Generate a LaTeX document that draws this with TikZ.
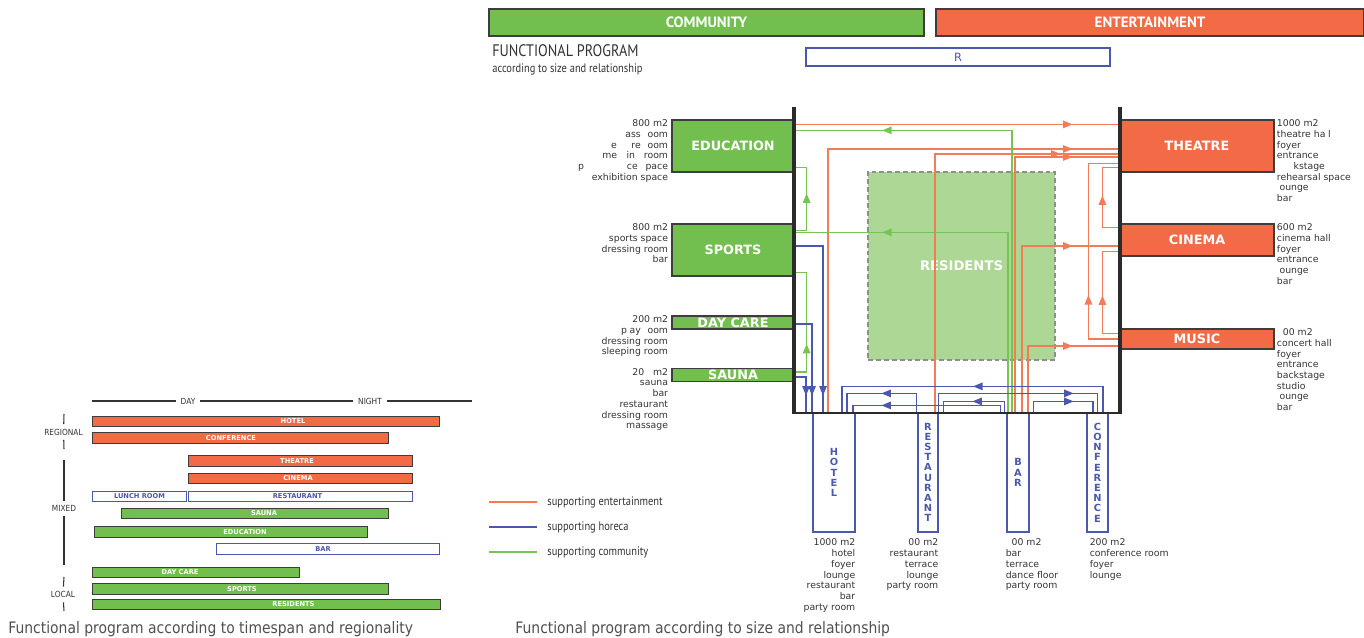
\documentclass[tikz,border=0pt]{standalone}
\usepackage{fontspec}
\setmainfont{DejaVu Sans}
\newfontfamily\ptsans{PT Sans}
\newfontfamily\condsans[FakeStretch=0.85]{PT Sans}
\newfontfamily\capsans[FakeStretch=0.88]{DejaVu Sans}
\usetikzlibrary{arrows.meta,calc,positioning,decorations.markings}
\definecolor{Leaf}{HTML}{72BF4F}
\definecolor{Flame}{HTML}{F26B46}
\definecolor{EntLine}{HTML}{F47B58}
\definecolor{ComLine}{HTML}{76C453}
\definecolor{Horeca}{HTML}{4A58AE}
\definecolor{Pale}{HTML}{ADD795}
\definecolor{Dash}{HTML}{8E8E8E}
\definecolor{Charcoal}{HTML}{2B2B2B}
\definecolor{Edge}{HTML}{3D3D3D}
\definecolor{Ink}{HTML}{333333}
\definecolor{Caption}{HTML}{505050}
\tikzset{
  hdrbox/.style={
    draw=Edge, line width=0.7pt, text=white, inner sep=0pt,
    font=\ptsans\bfseries\fontsize{8.5}{9}\selectfont, minimum height=0.54cm
  },
  combox/.style={
    draw=Edge, line width=0.7pt, fill=Leaf, text=white, inner sep=0pt,
    font=\bfseries\fontsize{7.3}{8}\selectfont, minimum width=2.44cm
  },
  entbox/.style={
    draw=Edge, line width=0.7pt, fill=Flame, text=white, inner sep=0pt,
    font=\bfseries\fontsize{7.3}{8}\selectfont, minimum width=3.08cm
  },
  horbox/.style={
    draw=Horeca, line width=0.7pt, fill=white, text=Horeca, inner sep=0pt,
    font=\bfseries\fontsize{5.6}{5.8}\selectfont, align=center, minimum height=2.38cm
  },
  resbox/.style={
    draw=Dash, dash pattern=on 2.8pt off 1.7pt, line width=0.7pt, fill=Pale,
    text=white, font=\bfseries\fontsize{7.5}{8}\selectfont,
    minimum width=3.74cm, minimum height=3.76cm
  },
  desc/.style={font=\fontsize{5.3}{6.1}\selectfont, text=Ink, inner sep=0pt},
  ent/.style={color=EntLine, line width=0.7pt},
  com/.style={color=ComLine, line width=0.7pt},
  hor/.style={color=Horeca, line width=0.7pt},
  mid/.style={postaction={decorate}, decoration={markings,
    mark=at position #1 with {\arrow{Triangle[length=1.9mm,width=1.5mm]}}}},
  wall/.style={draw=Charcoal, line width=2.3pt},
  tbar/.style={draw=Edge, line width=0.5pt, minimum height=0.21cm, inner sep=0pt},
  tlab/.style={font=\bfseries\fontsize{3.8}{4}\selectfont, text=white, inner sep=0pt},
  axislab/.style={font=\capsans\fontsize{4.8}{5}\selectfont, text=Ink, inner sep=2.5pt},
  axis/.style={draw=Ink, line width=0.6pt},
  legtxt/.style={anchor=west, inner sep=0pt, font=\condsans\fontsize{7}{7}\selectfont, text=Ink},
  caption/.style={anchor=west, inner sep=0pt, font=\capsans\fontsize{9}{9}\selectfont, text=Caption}
}

\begin{document}
\begin{tikzpicture}[x=0.02cm,y=-0.02cm]
  \useasboundingbox (0,0) rectangle (1364,638);

  % headers
  \node[hdrbox, fill=Leaf, minimum width=8.70cm] (community) at (706.5,22.5) {COMMUNITY};
  \node[hdrbox, fill=Flame, minimum width=8.56cm] (entertainment) at (1150,22.5) {ENTERTAINMENT};
  \node[anchor=west, inner sep=0pt, font=\condsans\fontsize{9.5}{10}\selectfont, text=Ink] (title) at (492,51) {FUNCTIONAL PROGRAM};
  \node[anchor=north west, inner sep=0pt, font=\condsans\fontsize{7}{8}\selectfont, text=Ink] (subtitle) at ([yshift=-0.12cm]title.south west) {according to size and relationship};
  \node[draw=Horeca, line width=0.7pt, text=Horeca, font=\fontsize{6.5}{7}\selectfont, minimum width=6.08cm, minimum height=0.36cm, inner sep=0pt] (rbox) at (958,57) {R};

  % program blocks
  \node[resbox] (residents) at (961.5,266) {RESIDENTS};
  \node[combox, minimum height=1.04cm] (edu) at (733,146) {EDUCATION};
  \node[combox, minimum height=1.04cm] (sports) at (733,250) {SPORTS};
  \node[combox, minimum height=0.26cm] (daycare) at (733,322.5) {DAY CARE};
  \node[combox, minimum height=0.26cm] (sauna) at (733,375) {SAUNA};
  \node[entbox, minimum height=1.04cm] (theatre) at (1197,146) {THEATRE};
  \node[entbox, minimum height=0.64cm] (cinema) at (1197,240) {CINEMA};
  \node[entbox, minimum height=0.40cm] (music) at (1197,339) {MUSIC};
  \node[horbox, minimum width=0.84cm] (hotelbox) at (834,472.5) {H\\O\\T\\E\\L};
  \node[horbox, minimum width=0.40cm] (restbox) at (928,472.5) {R\\E\\S\\T\\A\\U\\R\\A\\N\\T};
  \node[horbox, minimum width=0.44cm] (barbox) at (1018,472.5) {B\\A\\R};
  \node[horbox, minimum width=0.42cm] (confbox) at (1097.5,472.5) {C\\O\\N\\F\\E\\R\\E\\N\\C\\E};

  % room lists
  \node[desc, anchor=north east, align=right] (edutxt) at ([xshift=-0.06cm]edu.north west)
    {800 m2\\\phantom{cl}ass \phantom{r}oom\\\phantom{l}e\phantom{ctu}re \phantom{r}oom\\me\phantom{et}in\phantom{g} room\\p\phantom{erforman}ce \phantom{s}pace\\exhibition space};
  \node[desc, anchor=north east, align=right] (sportstxt) at ([xshift=-0.06cm]sports.north west)
    {800 m2\\sports space\\dressing room\\bar};
  \node[desc, anchor=north east, align=right] (daycaretxt) at ([xshift=-0.06cm]daycare.north west)
    {200 m2\\p\phantom{l}ay \phantom{r}oom\\dressing room\\sleeping room};
  \node[desc, anchor=north east, align=right] (saunatxt) at ([xshift=-0.06cm]sauna.north west)
    {20\phantom{0} m2\\sauna\\bar\\restaurant\\dressing room\\massage};
  \node[desc, anchor=north west, align=left] (theatretxt) at ([xshift=0.04cm]theatre.north east)
    {1000 m2\\theatre ha\phantom{l}l\\foyer\\entrance\\\phantom{bac}kstage\\rehearsal space\\\phantom{l}ounge\\bar};
  \node[desc, anchor=north west, align=left] (cinematxt) at ([xshift=0.04cm]cinema.north east)
    {600 m2\\cinema hall\\foyer\\entrance\\\phantom{l}ounge\\bar};
  \node[desc, anchor=north west, align=left] (musictxt) at ([xshift=0.04cm]music.north east)
    {\phantom{0}00 m2\\concert hall\\foyer\\entrance\\backstage\\studio\\\phantom{l}ounge\\bar};
  \node[desc, anchor=north east, align=right] (hoteltxt) at ([yshift=-0.12cm]hotelbox.south east)
    {1000 m2\\hotel\\foyer\\lounge\\restaurant\\bar\\party room};
  \node[desc, anchor=north east, align=right] (resttxt) at ([yshift=-0.12cm]restbox.south east)
    {\phantom{0}00 m2\\restaurant\\terrace\\lounge\\party room};
  \node[desc, anchor=north west, align=left] (bartxt) at ([xshift=-0.02cm,yshift=-0.12cm]barbox.south west)
    {\phantom{0}00 m2\\bar\\terrace\\dance floor\\party room};
  \node[desc, anchor=north west, align=left] (conftxt) at ([xshift=0.06cm,yshift=-0.12cm]confbox.south west)
    {200 m2\\conference room\\foyer\\lounge};

  % supporting entertainment
  \draw[ent, mid=5.56cm] ($(edu.north east)+(0,5)$) -- ($(theatre.north west)+(0,5)$);
  \draw[ent, mid=10.16cm] ($(hotelbox.north)+(-6,0)$) |- ($(theatre.west)+(0,3)$);
  \draw[ent, mid=7.68cm] ($(restbox.north)+(7,0)$) |- ($(theatre.west)+(0,8)$);
  \draw[ent, mid=6.26cm] ($(barbox.north)+(-3,0)$) |- ($(theatre.west)+(0,11)$);
  \draw[ent, mid=4.34cm] ($(barbox.north)+(4,0)$) |- ($(cinema.west)+(0,6)$);
  \draw[ent, mid=2.22cm] ($(barbox.north)+(10,0)$) |- ($(music.west)+(0,7)$);
  \draw[ent, mid=1.5cm] (music.west) -- ++(-31,0) |- ($(theatre.south west)+(0,-9)$);
  \draw[ent, mid=0.98cm] ($(cinema.north west)+(0,4)$) -- ++(-17,0) |- ($(theatre.south west)+(0,-5)$);
  \draw[ent, mid=1.1cm] ($(music.north west)+(0,5)$) -- ++(-17,0) |- ($(cinema.south west)+(0,-5)$);

  % supporting community
  \draw[com, mid=8.24cm] ($(barbox.north)+(-6,0)$) |- ($(edu.north east)+(0,11)$);
  \draw[com, mid=6.12cm] ($(barbox.north)+(-10,0)$) |- ($(sports.north east)+(0,9)$);
  \draw[com, mid=0.98cm] ($(sports.north east)+(0,7)$) -- ++(12,0) |- ($(edu.south east)+(0,-5)$);
  \draw[com, mid=0.8cm] ($(sauna.north east)+(0,4)$) -- ++(12,0) |- ($(sports.south east)+(0,-4)$);

  % supporting horeca
  \draw[hor, mid=3.56cm] ($(sports.east)+(0,-4)$) -| ($(hotelbox.north)+(-11,0)$);
  \draw[hor, mid=1.78cm] ($(daycare.east)+(0,1.5)$) -| ($(hotelbox.north)+(-22,0)$);
  \draw[hor, mid=0.6cm] ($(sauna.east)+(0,2)$) -| ($(hotelbox.north)+(-28,0)$);
  \draw[hor, mid=3.12cm] ($(confbox.north)+(5.5,0)$) -- ++(0,-26) -| ($(hotelbox.north)+(8,0)$);
  \draw[hor, mid=1.08cm] ($(restbox.north west)+(-1,0)$) -- ++(0,-19) -| ($(hotelbox.north)+(13,0)$);
  \draw[hor, mid=3.08cm] (restbox.north east) -- ++(0,-19) -| (confbox.north);
  \draw[hor, mid=0.86cm] ($(barbox.north west)+(-2,0)$) -- ++(0,-11) -| ($(restbox.north east)+(5,0)$);
  \draw[hor, mid=2.52cm] ($(barbox.north west)+(-6,0)$) -- ++(0,-7) -| ($(hotelbox.north)+(19,0)$);
  \draw[hor, mid=1.02cm] ($(barbox.north east)+(4,0)$) -- ++(0,-11) -| ($(confbox.north)+(-4.5,0)$);

  % frame
  \draw[wall] (794,107) -- (794,414);
  \draw[wall] (1120,107) -- (1120,414);
  \draw[draw=Charcoal, line width=1.2pt] (794,413) -- (1120,413);

  % legend
  \node[legtxt] (legent) at (547,502) {supporting entertainment};
  \node[legtxt] (leghor) at (547,527) {supporting horeca};
  \node[legtxt] (legcom) at (547,552) {supporting community};
  \draw[ent] ([xshift=-0.2cm]legent.west) -- ++(-48,0);
  \draw[hor] ([xshift=-0.2cm]leghor.west) -- ++(-48,0);
  \draw[com] ([xshift=-0.2cm]legcom.west) -- ++(-48,0);

  % timespan chart
  \node[axislab] (day) at (188,401) {DAY};
  \node[axislab] (night) at (370,401) {NIGHT};
  \draw[axis] (92,401) -- (day) -- (night) -- (472,401);
  \node[axislab] (regional) at (63.5,432) {REGIONAL};
  \node[axislab] (mixed) at (64,508.5) {MIXED};
  \node[axislab] (local) at (63,594.5) {LOCAL};
  \draw[axis] (64,414) -- (regional) -- (64,449);
  \draw[axis] (64,460) -- (mixed) -- (64,565);
  \draw[axis] (64,577) -- (local) -- (64,611);

  \node[tbar, fill=Flame, minimum width=6.94cm] (hotelbar) at (265.5,421.5) {};
  \node[tlab] (hotellab) at (293,421.5) {HOTEL};
  \node[tbar, fill=Flame, minimum width=5.92cm] (confbar) at (240,438) {};
  \node[tlab] (conflab) at (231,438) {CONFERENCE};
  \node[tbar, fill=Flame, minimum width=4.48cm] (theatrebar) at (300,461) {};
  \node[tlab] (theatrelab) at (297,461) {THEATRE};
  \node[tbar, fill=Flame, minimum width=4.48cm] (cinemabar) at (300,478.5) {};
  \node[tlab] (cinemalab) at (298,478.5) {CINEMA};
  \node[tbar, draw=Horeca, fill=white, minimum width=1.88cm] (lunchbar) at (139,496.5) {};
  \node[tlab, text=Horeca] (lunchlab) at (139.5,496.5) {LUNCH ROOM};
  \node[tbar, draw=Horeca, fill=white, minimum width=4.48cm] (restbar) at (300,496.5) {};
  \node[tlab, text=Horeca] (restlab) at (297.5,496.5) {RESTAURANT};
  \node[tbar, fill=Leaf, minimum width=5.34cm] (saunabar) at (254.5,513.5) {};
  \node[tlab] (saunalab) at (264,513.5) {SAUNA};
  \node[tbar, fill=Leaf, minimum width=5.46cm] (edubar) at (230.5,532) {};
  \node[tlab] (edulab) at (245,532) {EDUCATION};
  \node[tbar, draw=Horeca, fill=white, minimum width=4.46cm] (barbar) at (327.5,549) {};
  \node[tlab, text=Horeca] (barlab) at (323,549) {BAR};
  \node[tbar, fill=Leaf, minimum width=4.14cm] (daycarebar) at (195.5,572.5) {};
  \node[tlab] (daycarelab) at (180,572.5) {DAY CARE};
  \node[tbar, fill=Leaf, minimum width=5.92cm] (sportsbar) at (240,589) {};
  \node[tlab] (sportslab) at (242,589) {SPORTS};
  \node[tbar, fill=Leaf, minimum width=6.96cm] (residentsbar) at (266,604.5) {};
  \node[tlab] (residentslab) at (293.5,604.5) {RESIDENTS};

  % captions
  \node[caption] (capleft) at (8,629) {Functional program according to timespan and regionality};
  \node[caption] (capright) at (515,629) {Functional program according to size and relationship};
\end{tikzpicture}
\end{document}
